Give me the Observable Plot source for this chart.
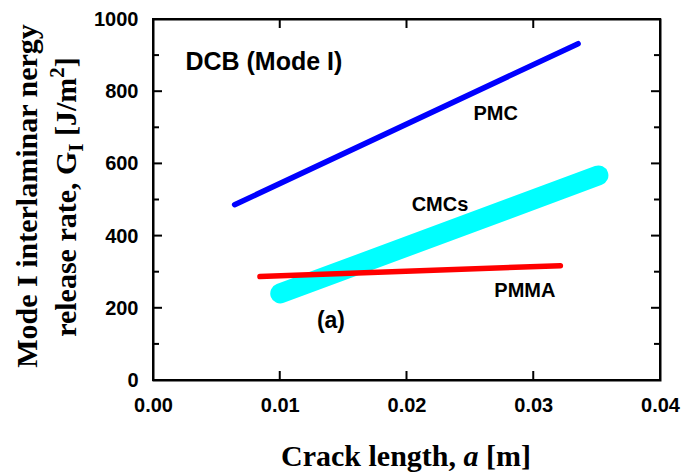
<!DOCTYPE html>
<html>
<head>
<meta charset="utf-8">
<script src="https://cdn.jsdelivr.net/npm/d3@7"></script>
<script src="https://cdn.jsdelivr.net/npm/@observablehq/plot@0.6"></script>
<style>
  html, body { margin: 0; padding: 0; background: white; }
</style>
</head>
<body>
<div id="chart"></div>
<script>
// ---- data ----
const seriesNames = ["PMC", "CMCs", "PMMA"];
const startX = [0.0064, 0.0100, 0.0084];
const startY = [487, 241, 288];
const endX = [0.0335, 0.0351, 0.0321];
const endY = [933, 568, 318];

const labelTexts = ["DCB (Mode I)", "PMC", "CMCs", "PMMA", "(a)"];
const labelX = [0.00252, 0.0270, 0.0226, 0.0293, 0.0140];
const labelY = [881, 740, 488, 250, 166];

const xTickValues = [0, 0.01, 0.02, 0.03, 0.04];
const yTickValues = [0, 200, 400, 600, 800, 1000];
const yMinorTickValues = [100, 300, 500, 700, 900];
const xDomain = [0, 0.04];
const yDomain = [0, 1000];

// ---- build tables ----
const rows = seriesNames.map((s, i) => ({series: s, x1: startX[i], y1: startY[i], x2: endX[i], y2: endY[i]}));
const labels = labelTexts.map((t, i) => ({text: t, x: labelX[i], y: labelY[i]}));

const lineStyle = {
  CMCs: {stroke: "#00ffff", width: 20},
  PMC: {stroke: "#0000ff", width: 5.5},
  PMMA: {stroke: "#ff0000", width: 5.5}
};
const drawOrder = ["CMCs", "PMC", "PMMA"];

const sans = "'Liberation Sans', Arial, Helvetica, sans-serif";
const serif = "'Liberation Serif', 'Times New Roman', serif";

const chart = Plot.plot({
  width: 683,
  height: 475,
  marginLeft: 153,
  marginRight: 23,
  marginTop: 19,
  marginBottom: 95,
  x: {domain: xDomain},
  y: {domain: yDomain},
  style: {fontFamily: sans, fontWeight: "bold", fontSize: "20px", color: "black", background: "white"},
  marks: [
    ...drawOrder.map(s => Plot.link(rows.filter(r => r.series === s), {
      x1: "x1", y1: "y1", x2: "x2", y2: "y2",
      stroke: lineStyle[s].stroke,
      strokeWidth: lineStyle[s].width,
      strokeLinecap: "round"
    })),
    Plot.axisX(xTickValues, {anchor: "bottom", tickSize: 0, tickPadding: 17, tickFormat: d3.format(".2f"), label: null, fontSize: 20, fontWeight: "bold"}),
    Plot.axisY(yTickValues, {anchor: "left", tickSize: 0, tickPadding: 15, tickFormat: d3.format("d"), label: null, fontSize: 20, fontWeight: "bold"}),
    Plot.text(labels.filter(d => d.text === "DCB (Mode I)"), {
      x: "x", y: "y", text: "text", textAnchor: "start", fontSize: 25, fontWeight: "bold"
    }),
    Plot.text(labels.filter(d => d.text === "(a)"), {
      x: "x", y: "y", text: "text", fontSize: 23, fontWeight: "bold"
    }),
    Plot.text(labels.filter(d => d.text !== "DCB (Mode I)" && d.text !== "(a)"), {
      x: "x", y: "y", text: "text", fontSize: 20, fontWeight: "bold"
    }),
    Plot.frame({stroke: "black", strokeWidth: 2})
  ]
});

document.getElementById("chart").appendChild(chart);

const svg = d3.select(chart);
const sx = chart.scale("x"), sy = chart.scale("y");
const X = v => sx.apply(v), Y = v => sy.apply(v);
const box = svg.append("g").attr("stroke", "#000").attr("stroke-width", 2).attr("fill", "none");
box.append("rect")
  .attr("x", X(xDomain[0])).attr("y", Y(yDomain[1]))
  .attr("width", X(xDomain[1]) - X(xDomain[0]))
  .attr("height", Y(yDomain[0]) - Y(yDomain[1]));
xTickValues.slice(1, -1).forEach(v => {
  box.append("line").attr("x1", X(v)).attr("x2", X(v)).attr("y1", Y(yDomain[0])).attr("y2", Y(yDomain[0]) - 9);
  box.append("line").attr("x1", X(v)).attr("x2", X(v)).attr("y1", Y(yDomain[1])).attr("y2", Y(yDomain[1]) + 9);
});
yTickValues.slice(1, -1).forEach(v => {
  box.append("line").attr("y1", Y(v)).attr("y2", Y(v)).attr("x1", X(xDomain[0])).attr("x2", X(xDomain[0]) + 9);
  box.append("line").attr("y1", Y(v)).attr("y2", Y(v)).attr("x1", X(xDomain[1])).attr("x2", X(xDomain[1]) - 9);
});
yMinorTickValues.forEach(v => {
  box.append("line").attr("y1", Y(v)).attr("y2", Y(v)).attr("x1", X(xDomain[0])).attr("x2", X(xDomain[0]) + 6);
  box.append("line").attr("y1", Y(v)).attr("y2", Y(v)).attr("x1", X(xDomain[1])).attr("x2", X(xDomain[1]) - 6);
});

// ---- axis titles with rich text ----
const yTitle = svg.append("g")
  .attr("font-family", serif)
  .attr("font-weight", "bold")
  .attr("font-size", 30);
yTitle.append("text")
  .attr("transform", "translate(37,196) rotate(-90)")
  .attr("text-anchor", "middle")
  .text("Mode I interlaminar nergy");
const t2 = yTitle.append("text")
  .attr("transform", "translate(76,197) rotate(-90)")
  .attr("text-anchor", "middle");
t2.append("tspan").text("release rate, G");
t2.append("tspan").attr("font-size", 21).attr("dy", 7).text("I");
t2.append("tspan").attr("dy", -7).text(" [J/m");
t2.append("tspan").attr("font-size", 21).attr("dy", -12).text("2");
t2.append("tspan").attr("dy", 12).text("]");

const xTitle = svg.append("text")
  .attr("x", 406)
  .attr("y", 466)
  .attr("text-anchor", "middle")
  .attr("font-family", serif)
  .attr("font-weight", "bold")
  .attr("font-size", 30);
xTitle.append("tspan").text("Crack length, ");
xTitle.append("tspan").attr("font-style", "italic").text("a");
xTitle.append("tspan").text(" [m]");
</script>
</body>
</html>
